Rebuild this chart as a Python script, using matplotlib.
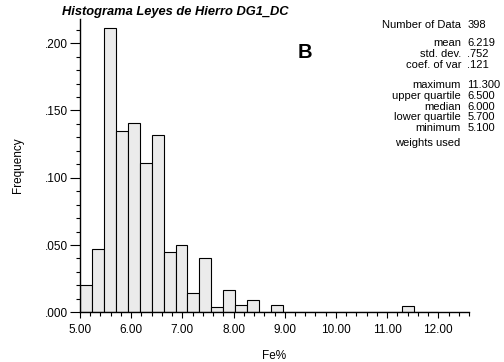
import numpy as np
import matplotlib
matplotlib.use("Agg")
import matplotlib.pyplot as plt
from matplotlib.ticker import MultipleLocator, FuncFormatter

plt.rcParams['font.family'] = ['Liberation Sans', 'DejaVu Sans']

# ---- data ----
bin_edges = np.linspace(5.0, 12.0, 31)
frequencies = [0.020, 0.047, 0.211, 0.135, 0.141, 0.111, 0.132, 0.045, 0.050, 0.0145,
               0.040, 0.0042, 0.0168, 0.0052, 0.0089, 0.0, 0.0052, 0.0, 0.0, 0.0,
               0.0, 0.0, 0.0, 0.0, 0.0, 0.0, 0.0, 0.0047, 0.0, 0.0]
stat_labels = ["Number of Data", "mean", "std. dev.", "coef. of var",
               "maximum", "upper quartile", "median", "lower quartile", "minimum"]
stat_values = ["398", "6.219", ".752", ".121", "11.300", "6.500", "6.000", "5.700", "5.100"]
title = "Histograma Leyes de Hierro DG1_DC"

fig = plt.figure(figsize=(5.04, 3.62), dpi=100)
ax = fig.add_axes([80/504, 1 - 312.3/362, (469 - 80)/504, (312.3 - 19)/362])

widths = np.diff(bin_edges)
ax.bar(bin_edges[:-1], frequencies, width=widths, align='edge',
       color='#ebebeb', edgecolor='black', linewidth=0.8, zorder=2)

ax.set_xlim(5.0, 12.6)
ax.set_ylim(0, 0.218)

for s in ['top', 'right']:
    ax.spines[s].set_visible(False)
for s in ['left', 'bottom']:
    ax.spines[s].set_linewidth(1.0)
    ax.spines[s].set_zorder(3)

ax.xaxis.set_major_locator(MultipleLocator(1.0))
ax.xaxis.set_minor_locator(MultipleLocator(0.2))
ax.yaxis.set_major_locator(MultipleLocator(0.05))
ax.yaxis.set_minor_locator(MultipleLocator(0.01))
ax.xaxis.set_major_formatter(FuncFormatter(lambda v, p: f"{v:.2f}"))
ax.yaxis.set_major_formatter(FuncFormatter(lambda v, p: f"{v:.3f}".lstrip('0')))

ax.tick_params(axis='x', which='major', length=4, width=0.8, pad=4.5, labelsize=8.5)
ax.tick_params(axis='x', which='minor', length=2.6, width=0.8)
ax.tick_params(axis='y', which='major', length=7.5, width=0.8, pad=1, labelsize=8.5)
ax.tick_params(axis='y', which='minor', length=3.1, width=0.8)

ax.set_xlabel("Fe%", fontsize=8.5, labelpad=10)
ax.set_ylabel("Frequency", fontsize=8.5, labelpad=15)

fig.text(62/504, 1 - 12/362, title, fontsize=9.3, fontweight='bold', fontstyle='italic',
         ha='left', va='center')
fig.text(305/504, 1 - 52.5/362, "B", fontsize=14.5, fontweight='bold', ha='center', va='center')

ys = [25.5, 43, 54, 64.8, 85.2, 96, 106.7, 117.3, 128]
for lab, val, y in zip(stat_labels, stat_values, ys):
    fig.text(461/504, 1 - y/362, lab, fontsize=8, ha='right', va='center')
    fig.text(467.5/504, 1 - y/362, val, fontsize=8, ha='left', va='center')
fig.text(395/504, 1 - 143/362, "weights used", fontsize=8, ha='left', va='center')

fig.savefig("out.png", dpi=100)
